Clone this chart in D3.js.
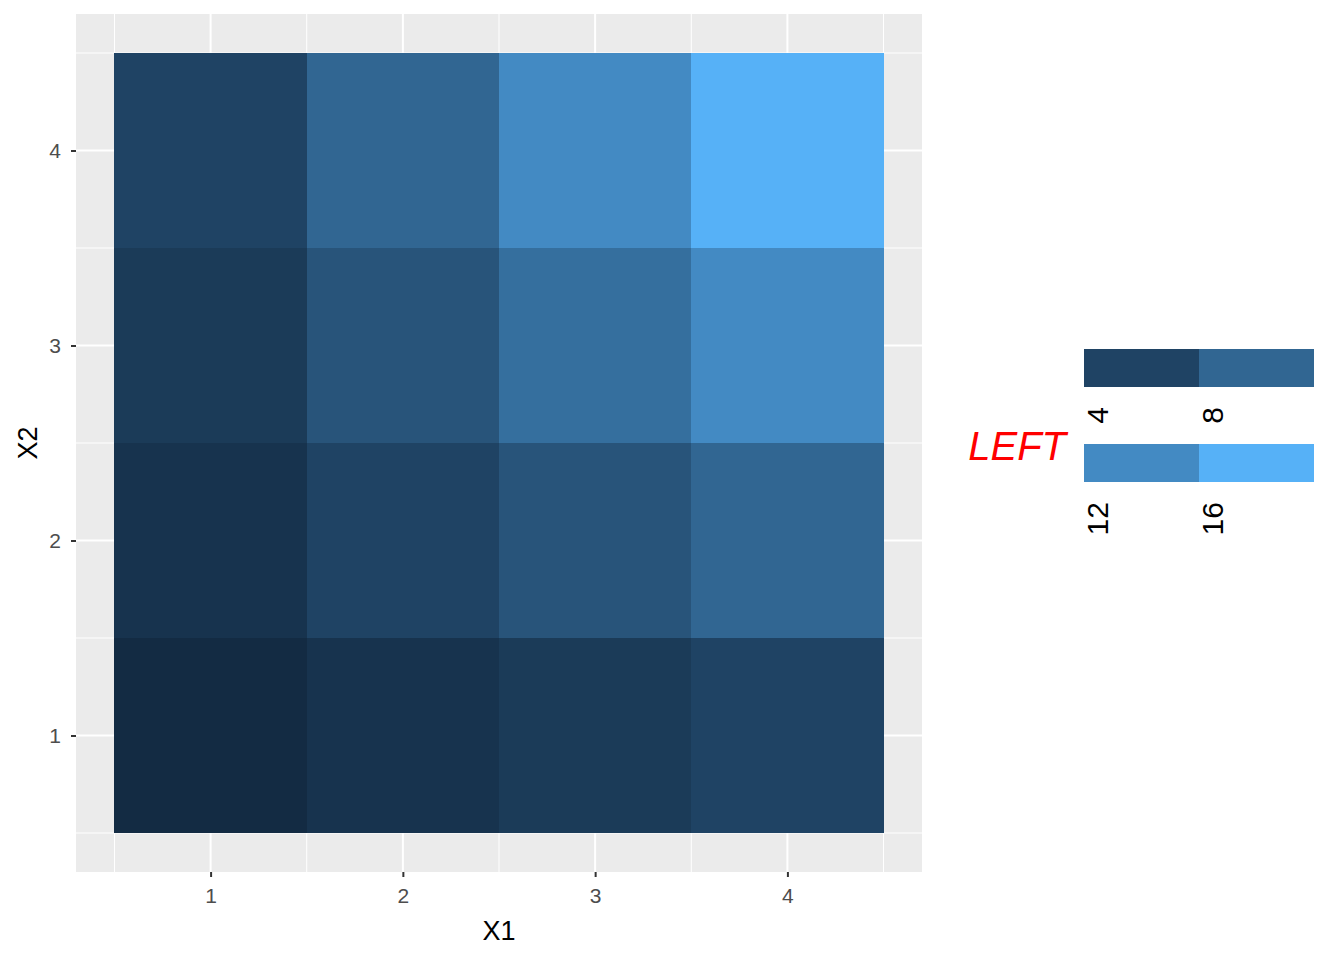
<!DOCTYPE html>
<html><head><meta charset="utf-8">
<script src="https://cdn.jsdelivr.net/npm/d3@7"></script>
<style>body{margin:0;background:#fff;}text{font-family:"Liberation Sans",Arial,sans-serif;}</style>
</head><body>
<svg id="chart" width="1344" height="960"></svg>
<script>
const x1Values = [1, 2, 3, 4];
const x2Values = [1, 2, 3, 4];
const tileValues = [
  // [X1, X2, value]
  [1,1,1],[2,1,2],[3,1,3],[4,1,4],
  [1,2,2],[2,2,4],[3,2,6],[4,2,8],
  [1,3,3],[2,3,6],[3,3,9],[4,3,12],
  [1,4,4],[2,4,8],[3,4,12],[4,4,16]
];
const legendBreaks = [4, 8, 12, 16];
const legendTitle = "LEFT";

const svg = d3.select("#chart");
const P = {l: 76, r: 922, t: 14, b: 872};
const x = d3.scaleLinear().domain([0.3, 4.7]).range([P.l, P.r]);
const y = d3.scaleLinear().domain([0.3, 4.7]).range([P.b, P.t]);
const color = d3.scaleLinear().domain([1, 16]).range(["#132B43", "#56B1F7"]).interpolate(d3.interpolateLab);

svg.append("rect").attr("x", P.l).attr("y", P.t).attr("width", P.r - P.l).attr("height", P.b - P.t).attr("fill", "#EBEBEB");
const minor = [0.5, 1.5, 2.5, 3.5, 4.5];
const g = svg.append("g");
minor.forEach(v => {
  g.append("line").attr("x1", x(v)).attr("x2", x(v)).attr("y1", P.t).attr("y2", P.b).attr("stroke", "#fff").attr("stroke-width", 1);
  g.append("line").attr("y1", y(v)).attr("y2", y(v)).attr("x1", P.l).attr("x2", P.r).attr("stroke", "#fff").attr("stroke-width", 1);
});
x1Values.forEach(v => {
  g.append("line").attr("x1", x(v)).attr("x2", x(v)).attr("y1", P.t).attr("y2", P.b).attr("stroke", "#fff").attr("stroke-width", 2);
});
x2Values.forEach(v => {
  g.append("line").attr("y1", y(v)).attr("y2", y(v)).attr("x1", P.l).attr("x2", P.r).attr("stroke", "#fff").attr("stroke-width", 2);
});

svg.append("g").attr("shape-rendering", "crispEdges").selectAll("rect").data(tileValues).join("rect")
  .attr("x", d => Math.round(x(d[0] - 0.5))).attr("y", d => Math.round(y(d[1] + 0.5)))
  .attr("width", d => Math.round(x(d[0] + 0.5)) - Math.round(x(d[0] - 0.5)))
  .attr("height", d => Math.round(y(d[1] - 0.5)) - Math.round(y(d[1] + 0.5)))
  .attr("fill", d => color(d[2]));

// axes
const xAxis = svg.append("g").attr("transform", `translate(0,${P.b})`)
  .call(d3.axisBottom(x).tickValues(x1Values).tickSize(5).tickPadding(11).tickFormat(d3.format("d")));
const yAxis = svg.append("g").attr("transform", `translate(${P.l},0)`)
  .call(d3.axisLeft(y).tickValues(x2Values).tickSize(5).tickPadding(10).tickFormat(d3.format("d")));
[xAxis, yAxis].forEach(a => {
  a.select(".domain").remove();
  a.selectAll(".tick line").attr("stroke", "#333").attr("stroke-width", 2);
  a.selectAll(".tick text").attr("fill", "#4D4D4D").style("font-size", "21px").attr("font-family", null);
});

svg.append("text").attr("x", (P.l + P.r) / 2).attr("y", 940).attr("text-anchor", "middle")
  .style("font-size", "27px").attr("fill", "#000").text("X1");
svg.append("text").attr("transform", `translate(37,${(P.t + P.b) / 2}) rotate(-90)`).attr("text-anchor", "middle")
  .style("font-size", "27px").attr("fill", "#000").text("X2");

// legend
const keyW = 115, keyH = 38;
const lx = 1084, ly = [349, 444];
const lg = svg.append("g");
legendBreaks.forEach((v, i) => {
  const col = i % 2, row = Math.floor(i / 2);
  const kx = lx + col * keyW, ky = ly[row];
  lg.append("rect").attr("x", kx).attr("y", ky).attr("width", keyW).attr("height", keyH).attr("fill", color(v));
  lg.append("text").attr("transform", `translate(${kx + 24},${ky + keyH + 20}) rotate(-90)`)
    .attr("text-anchor", "end").style("font-size", "30px").attr("fill", "#000").text(v);
});
lg.append("text").attr("x", 1066).attr("y", 460).attr("text-anchor", "end")
  .style("font-size", "40px").style("font-style", "italic").attr("fill", "red").text(legendTitle);
</script>
</body></html>
